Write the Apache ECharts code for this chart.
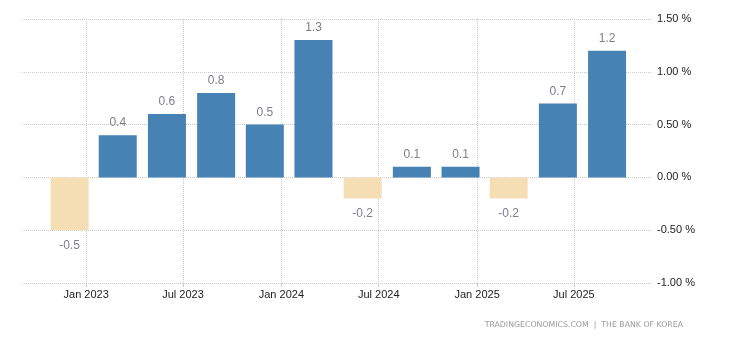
<!DOCTYPE html>
<html>
<head>
<meta charset="utf-8">
<script src="https://cdn.jsdelivr.net/npm/echarts@6/dist/echarts.min.js"></script>
<style>
html,body{margin:0;padding:0;background:#fff;}
#c{width:730px;height:340px;}
</style>
</head>
<body>
<div id="c"></div>
<script>
// Quarterly GDP growth rate (QoQ, %)
var periods = ['2022-12-01','2023-03-01','2023-06-01','2023-09-01','2023-12-01','2024-03-01','2024-06-01','2024-09-01','2024-12-01','2025-03-01','2025-06-01','2025-09-01'];
var values = [-0.5, 0.4, 0.6, 0.8, 0.5, 1.3, -0.2, 0.1, 0.1, -0.2, 0.7, 1.2];
var monthNames = ['Jan','Feb','Mar','Apr','May','Jun','Jul','Aug','Sep','Oct','Nov','Dec'];
var xMin = '2022-09-03', xMax = '2025-11-24';
var yMin = -1, yMax = 1.5, yStep = 0.5;
var source = 'TRADINGECONOMICS.COM  |  THE BANK OF KOREA';

var GRID_W = 630, BAR_W = 38;
var HALF_YEAR = 365 * 86400000 / 2;
// ECharts widens a bar-bearing time axis by the bar width; pre-shrink so the final span is xMin..xMax
var tMin = +new Date(xMin), tMax = +new Date(xMax);
var mid = (tMin + tMax) / 2, half = (tMax - tMin) / 2 * (1 - BAR_W / GRID_W);

var chart = echarts.init(document.getElementById('c'), null, {renderer: 'canvas'});
var data = periods.map(function (p, i) {
  var v = values[i];
  return {
    value: [p, v],
    itemStyle: {color: v < 0 ? '#F5DEB3' : '#4682B4'},
    label: {position: v < 0 ? 'bottom' : 'top', distance: v < 0 ? 9 : 6}
  };
});
chart.setOption({
  animation: false,
  textStyle: {fontFamily: 'Liberation Sans, Arial, sans-serif'},
  grid: {left: 22, right: 78, top: 19, bottom: 57, containLabel: false},
  xAxis: {
    type: 'time',
    min: mid - half, max: mid + half,
    minInterval: HALF_YEAR, maxInterval: HALF_YEAR,
    axisLine: {show: false, onZero: false},
    axisTick: {show: true, length: 4, lineStyle: {color: '#ccc'}},
    splitLine: {show: true, showMinLine: false, showMaxLine: false, lineStyle: {color: '#ccc', type: 'dotted'}},
    axisLabel: {
      color: '#222', fontSize: 11, margin: 6,
      showMinLabel: false, showMaxLabel: false,
      formatter: function (val) {
        var d = new Date(val);
        return monthNames[d.getMonth()] + ' ' + d.getFullYear();
      }
    }
  },
  yAxis: {
    type: 'value', position: 'right',
    min: yMin, max: yMax, interval: yStep,
    axisLine: {show: false}, axisTick: {show: false},
    splitLine: {show: true, lineStyle: {color: '#ccc', type: 'dotted'}},
    axisLabel: {
      color: '#222', fontSize: 11, margin: 5,
      formatter: function (v) { return v.toFixed(2) + ' %'; }
    }
  },
  series: [{
    type: 'bar',
    barWidth: BAR_W,
    data: data,
    label: {
      show: true, color: '#7d7d8c', fontSize: 12,
      formatter: function (p) { return p.value[1].toFixed(1); }
    }
  }],
  graphic: [{
    type: 'text', right: 47, top: 321,
    style: {text: source, fill: '#999', fontSize: 7.8, fontFamily: 'DejaVu Sans, sans-serif'}
  }]
});
</script>
</body>
</html>
